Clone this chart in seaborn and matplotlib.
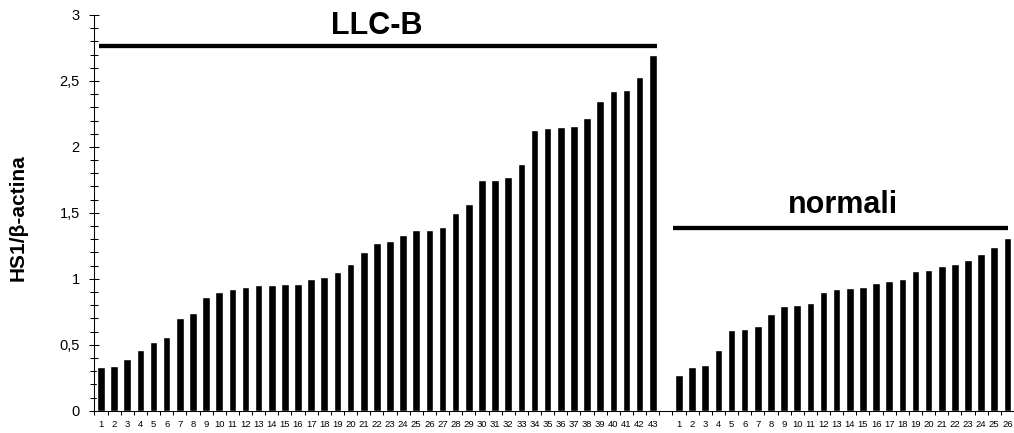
import numpy as np
import pandas as pd
import matplotlib
matplotlib.use("Agg")
import matplotlib.pyplot as plt
import seaborn as sns

# HS1 / beta-actin expression ratios, sorted within each group
llc_values = [0.33, 0.34, 0.39, 0.46, 0.52, 0.56, 0.70, 0.74, 0.86, 0.90,
              0.92, 0.94, 0.95, 0.95, 0.96, 0.96, 1.00, 1.01, 1.05, 1.11,
              1.20, 1.27, 1.29, 1.33, 1.37, 1.37, 1.39, 1.50, 1.57, 1.75,
              1.75, 1.77, 1.87, 2.13, 2.14, 2.15, 2.16, 2.22, 2.35, 2.42,
              2.43, 2.53, 2.70]
normal_values = [0.27, 0.33, 0.35, 0.46, 0.61, 0.62, 0.64, 0.73, 0.79, 0.80,
                 0.82, 0.90, 0.92, 0.93, 0.94, 0.97, 0.98, 1.00, 1.06, 1.07,
                 1.10, 1.11, 1.14, 1.19, 1.24, 1.31]
llc_labels = [str(i) for i in range(1, len(llc_values) + 1)]
normal_labels = [str(i) for i in range(1, len(normal_values) + 1)]
group_names = ["LLC-B", "normali"]
y_title = "HS1/β-actina"
y_ticks = [0, 0.5, 1, 1.5, 2, 2.5, 3]
y_tick_labels = ["0", "0,5", "1", "1,5", "2", "2,5", "3"]

sns.set_style("ticks")
plt.rcParams["font.family"] = ["Liberation Sans", "DejaVu Sans"]
for key in ("text.color", "axes.labelcolor", "xtick.color", "ytick.color",
            "axes.edgecolor"):
    plt.rcParams[key] = "black"

# one categorical slot per sample, with an empty spacer slot between groups
llc_keys = [f"{group_names[0]} {s}" for s in llc_labels]
normal_keys = [f"{group_names[1]} {s}" for s in normal_labels]
spacer = "spacer"
order = llc_keys + [spacer] + normal_keys
df = pd.DataFrame({
    "sample": llc_keys + normal_keys,
    "value": llc_values + normal_values,
})

fig = plt.figure(figsize=(10.14, 4.33), dpi=100)
ax = fig.add_axes([0.0931, 0.0515, 0.9069, 0.9139])

sns.barplot(data=df, x="sample", y="value", order=order, color="black",
            saturation=1, width=0.58, errorbar=None, ax=ax)

n_slots = len(order)
ax.set_xlim(-0.5, n_slots - 0.5)
ax.set_ylim(0, 3)
ax.set_xlabel("")
ax.set_ylabel("")

# x: labels under bars, tick marks on slot boundaries
ax.set_xticks(range(n_slots))
ax.set_xticklabels(llc_labels + [""] + normal_labels, fontsize=6.8)
ax.set_xticks(np.arange(-0.5, n_slots, 1.0), minor=True)
ax.tick_params(axis="x", which="major", length=0, pad=6.5)
ax.tick_params(axis="x", which="minor", length=3, width=0.75,
               direction="out")

# y: comma decimals, crossing ticks every 0.1
ax.set_yticks(y_ticks)
ax.set_yticklabels(y_tick_labels, fontsize=10.5)
ax.set_yticks(np.arange(0, 3.01, 0.1), minor=True)
ax.tick_params(axis="y", which="major", length=7, width=0.75,
               direction="inout", pad=7)
ax.tick_params(axis="y", which="minor", length=5.5, width=0.75,
               direction="inout")

sns.despine(ax=ax)
for side in ("left", "bottom"):
    ax.spines[side].set_linewidth(0.75)
    ax.spines[side].set_color("black")

# group brackets with titles
n_llc = len(llc_values)
groups = [
    (0, n_llc - 1, 2.763, 2.858, -0.13, 0.34),
    (n_llc + 1, n_slots - 1, 1.388, 1.502, -0.45, 0.05),
]
for name, (first, last, y_line, y_text, dx0, dx1) in zip(group_names, groups):
    ax.plot([first + dx0, last + dx1], [y_line, y_line], color="black",
            lw=3.1, solid_capstyle="butt", clip_on=False)
    ax.text((first + last) / 2, y_text, name, ha="center", va="baseline",
            fontsize=22, fontweight="bold")

fig.text(17.8 / 1014, 1 - 217.5 / 433, y_title, rotation=90, ha="center",
         va="center", fontsize=15, fontweight="bold")

fig.savefig("out.png", dpi=100)
